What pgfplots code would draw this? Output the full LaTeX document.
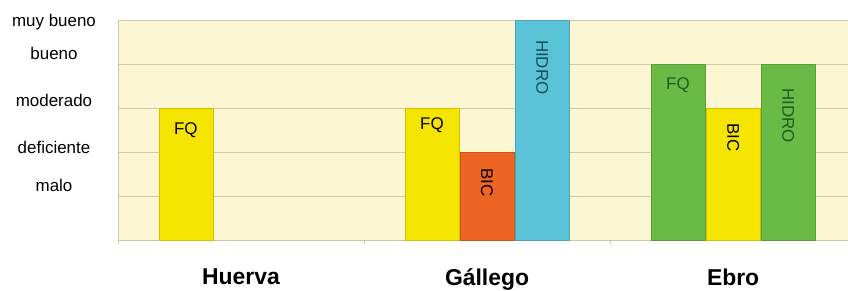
\documentclass[border=0pt]{standalone}
\usepackage{pgfplots}
\pgfplotsset{compat=1.18}
\usepackage{fontspec}
\setmainfont{Liberation Sans}
\definecolor{cream}{HTML}{FCF6D2}
\definecolor{gridc}{HTML}{CFC8A6}
\definecolor{cyel}{HTML}{F5E400}
\definecolor{cora}{HTML}{EE6422}
\definecolor{ccya}{HTML}{5BC3D8}
\definecolor{cgre}{HTML}{6ABB45}
\definecolor{dgreen}{HTML}{1E5A23}
\definecolor{dteal}{HTML}{184C5C}
\begin{document}
\begin{tikzpicture}
\begin{axis}[
  name=ax, at={(0,0)}, anchor=south west,
  scale only axis, width=730bp, height=220bp,
  xmin=-0.5, xmax=2.467, ymin=0, ymax=5,
  axis background/.style={fill=cream},
  separate axis lines,
  axis x line*=bottom, axis y line*=left,
  axis line style={draw=gridc, line width=0.6pt},
  xtick={0,1,2}, xticklabels={Huerva,G\'allego,Ebro},
  xticklabel style={font=\fontsize{23}{25}\selectfont\bfseries, yshift=-25bp},
  minor xtick={-0.5,0.5,1.5},
  major tick length=0pt, minor tick length=4bp,
  tick align=outside,
  minor tick style={draw=gridc},
  ytick={0,1,2,3,4,5}, yticklabels={},
  ymajorgrids, grid style={draw=gridc, line width=0.7pt},
  extra y ticks={1.23,2.11,3.18,4.23,4.95},
  extra y tick labels={malo,deficiente,moderado,bueno,muy bueno},
  extra y tick style={grid=none, major tick length=0pt,
    yticklabel style={anchor=center, xshift=-64bp, font=\fontsize{17}{19}\selectfont}},
  clip=false,
]
% Huerva
\addplot[ybar, bar width=0.22, bar shift=-0.224, fill=cyel, draw=cyel!85!black, line width=0.3pt] coordinates {(0,3)};
% Gallego
\addplot[ybar, bar width=0.22, bar shift=-0.224, fill=cyel, draw=cyel!85!black, line width=0.3pt] coordinates {(1,3)};
\addplot[ybar, bar width=0.22, bar shift=0, fill=cora, draw=cora!85!black, line width=0.3pt] coordinates {(1,2)};
\addplot[ybar, bar width=0.22, bar shift=0.224, fill=ccya, draw=ccya!85!black, line width=0.3pt] coordinates {(1,5)};
% Ebro
\addplot[ybar, bar width=0.22, bar shift=-0.224, fill=cgre, draw=cgre!85!black, line width=0.3pt] coordinates {(2,4)};
\addplot[ybar, bar width=0.22, bar shift=0, fill=cyel, draw=cyel!85!black, line width=0.3pt] coordinates {(2,3)};
\addplot[ybar, bar width=0.22, bar shift=0.224, fill=cgre, draw=cgre!85!black, line width=0.3pt] coordinates {(2,4)};
% labels
\node[font=\fontsize{17}{19}\selectfont] at (axis cs:-0.224,2.5) {FQ};
\node[font=\fontsize{17}{19}\selectfont] at (axis cs:0.776,2.6) {FQ};
\node[font=\fontsize{17}{19}\selectfont, rotate=-90] at (axis cs:1.0,1.3) {BIC};
\node[font=\fontsize{17}{19}\selectfont, rotate=-90, anchor=west, text=dteal, inner sep=0pt] at (axis cs:1.224,4.55) {HIDRO};
\node[font=\fontsize{17}{19}\selectfont, text=dgreen] at (axis cs:1.776,3.52) {FQ};
\node[font=\fontsize{17}{19}\selectfont, rotate=-90, anchor=west, inner sep=0pt] at (axis cs:2.0,2.66) {BIC};
\node[font=\fontsize{17}{19}\selectfont, rotate=-90, anchor=west, text=dgreen, inner sep=0pt] at (axis cs:2.224,3.45) {HIDRO};
\end{axis}
\pgfresetboundingbox
\path[use as bounding box] (-118bp,-51bp) rectangle (730bp,240bp);
\end{tikzpicture}
\end{document}
